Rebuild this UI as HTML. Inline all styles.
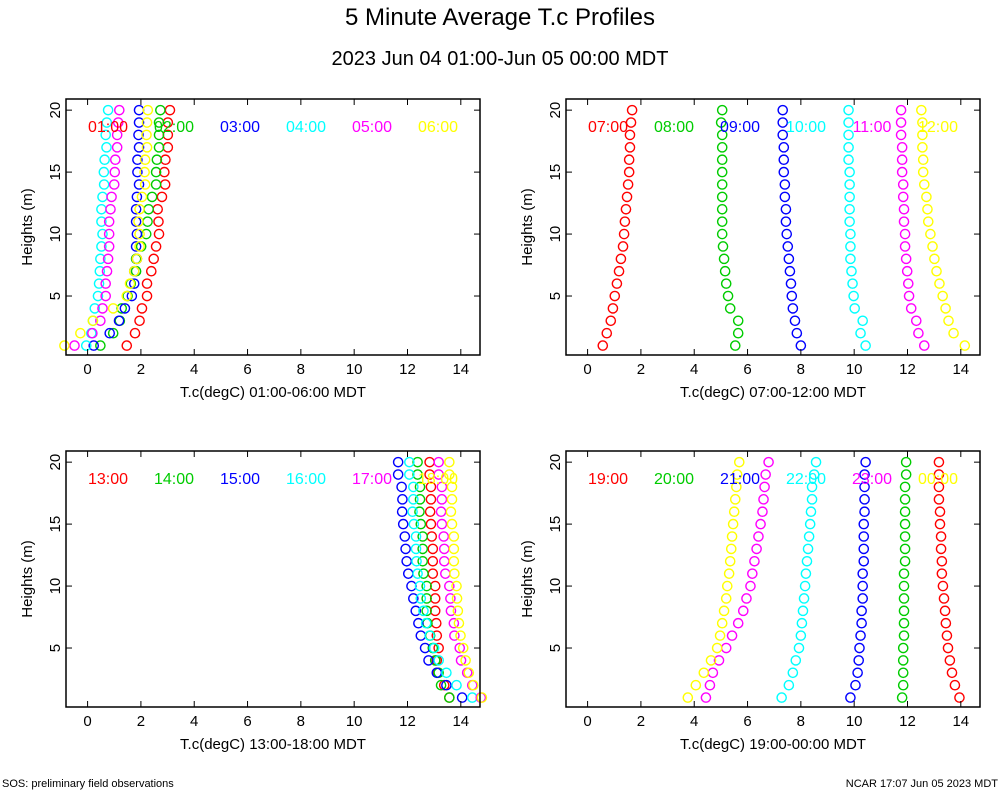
<!DOCTYPE html>
<html><head><meta charset="utf-8"><style>
body{margin:0;background:#fff;width:1000px;height:800px;overflow:hidden;font-family:"Liberation Sans",sans-serif}
svg text{font-family:"Liberation Sans",sans-serif}
</style></head><body>
<svg id="chart" width="1000" height="800" xmlns="http://www.w3.org/2000/svg">
<text x="500" y="25" font-size="24" text-anchor="middle">5 Minute Average T.c Profiles</text>
<text x="500" y="65" font-size="20" text-anchor="middle">2023 Jun 04 01:00-Jun 05 00:00 MDT</text>
<text x="2" y="787" font-size="11">SOS: preliminary field observations</text>
<text x="998" y="787" font-size="11" text-anchor="end">NCAR 17:07 Jun 05 2023 MDT</text>
</svg>
<script>
const heights=[1,2,3,4,5,6,7,8,9,10,11,12,13,14,15,16,17,18,19,20];
const colors=["#ff0000","#00cc00","#0000ff","#00ffff","#ff00ff","#ffff00"];
const xTicks=[0,2,4,6,8,10,12,14];
const yTicks=[5,10,15,20];
const p1Labels=["01:00","02:00","03:00","04:00","05:00","06:00"];
const p1Red=[1.47,1.78,1.95,2.04,2.23,2.23,2.39,2.48,2.57,2.68,2.66,2.63,2.79,2.91,2.88,2.92,3.01,3.01,3.01,3.09];
const p1Green=[0.48,0.96,1.21,1.28,1.50,1.62,1.82,1.82,2.01,2.20,2.25,2.29,2.42,2.57,2.57,2.60,2.68,2.68,2.68,2.73];
const p1Blue=[0.23,0.83,1.18,1.40,1.66,1.75,1.75,1.85,1.82,1.85,1.82,1.82,1.85,1.93,1.87,1.87,1.93,1.91,1.93,1.93];
const p1Cyan=[-0.05,0.14,0.20,0.27,0.39,0.43,0.46,0.48,0.52,0.56,0.52,0.52,0.56,0.62,0.61,0.64,0.71,0.68,0.72,0.77];
const p1Magenta=[-0.49,0.18,0.48,0.56,0.68,0.68,0.73,0.77,0.81,0.81,0.81,0.86,0.90,1.00,1.02,1.04,1.11,1.11,1.15,1.19];
const p1Yellow=[-0.87,-0.27,0.20,0.96,1.47,1.59,1.75,1.85,1.95,1.95,1.91,1.95,2.04,2.16,2.14,2.16,2.23,2.21,2.23,2.26];
const p2Labels=["07:00","08:00","09:00","10:00","11:00","12:00"];
const p2Red=[0.57,0.72,0.87,0.95,1.02,1.10,1.18,1.25,1.33,1.37,1.40,1.44,1.48,1.52,1.56,1.56,1.59,1.59,1.63,1.67];
const p2Green=[5.54,5.65,5.65,5.35,5.27,5.20,5.16,5.12,5.08,5.05,5.05,5.05,5.05,5.05,5.05,5.05,5.05,5.05,5.01,5.05];
const p2Blue=[8.00,7.85,7.78,7.70,7.66,7.63,7.59,7.55,7.51,7.47,7.44,7.44,7.40,7.40,7.36,7.36,7.36,7.32,7.32,7.32];
const p2Cyan=[10.43,10.24,10.32,10.02,9.98,9.94,9.90,9.86,9.86,9.86,9.83,9.83,9.83,9.83,9.83,9.79,9.79,9.79,9.79,9.79];
const p2Magenta=[12.63,12.41,12.33,12.14,12.06,12.03,11.99,11.95,11.91,11.91,11.87,11.87,11.84,11.84,11.80,11.80,11.80,11.76,11.76,11.76];
const p2Yellow=[14.15,13.73,13.54,13.43,13.32,13.20,13.09,13.01,12.94,12.86,12.78,12.75,12.71,12.63,12.59,12.59,12.56,12.56,12.56,12.52];
const p3Labels=["13:00","14:00","15:00","16:00","17:00","18:00"];
const p3Red=[13.57,13.38,13.13,13.10,13.17,13.10,13.08,13.04,13.04,13.04,12.95,12.95,12.95,12.91,12.88,12.85,12.88,12.88,12.83,12.83];
const p3Green=[13.57,13.26,13.17,13.04,12.95,12.85,12.75,12.72,12.72,12.72,12.60,12.57,12.57,12.57,12.50,12.45,12.47,12.47,12.38,12.38];
const p3Blue=[14.05,13.46,13.10,12.79,12.66,12.50,12.41,12.31,12.22,12.15,12.03,11.97,11.93,11.90,11.84,11.80,11.81,11.78,11.65,11.65];
const p3Cyan=[14.43,13.84,13.46,13.17,13.00,12.83,12.70,12.60,12.50,12.47,12.38,12.34,12.32,12.32,12.24,12.19,12.22,12.22,12.07,12.07];
const p3Magenta=[14.75,14.43,14.24,14.01,13.96,13.76,13.74,13.63,13.61,13.57,13.42,13.38,13.38,13.36,13.29,13.26,13.29,13.29,13.17,13.17];
const p3Yellow=[14.79,14.47,14.30,14.18,14.09,13.99,13.93,13.89,13.86,13.84,13.76,13.74,13.74,13.74,13.67,13.63,13.67,13.67,13.57,13.57];
const p4Labels=["19:00","20:00","21:00","22:00","23:00","00:00"];
const p4Red=[13.95,13.78,13.67,13.59,13.52,13.48,13.44,13.41,13.37,13.33,13.29,13.29,13.26,13.26,13.22,13.22,13.18,13.18,13.18,13.18];
const p4Green=[11.80,11.84,11.84,11.84,11.84,11.87,11.87,11.87,11.87,11.87,11.87,11.91,11.91,11.91,11.91,11.91,11.91,11.91,11.95,11.95];
const p4Blue=[9.86,10.05,10.13,10.17,10.20,10.24,10.28,10.28,10.32,10.32,10.32,10.36,10.36,10.36,10.36,10.39,10.39,10.39,10.39,10.43];
const p4Cyan=[7.28,7.55,7.70,7.81,7.93,8.00,8.04,8.08,8.12,8.16,8.19,8.23,8.27,8.31,8.35,8.38,8.42,8.42,8.50,8.57];
const p4Magenta=[4.44,4.59,4.70,4.93,5.20,5.42,5.65,5.84,5.96,6.11,6.18,6.26,6.34,6.41,6.49,6.56,6.60,6.64,6.68,6.79];
const p4Yellow=[3.76,4.06,4.36,4.63,4.86,4.97,5.05,5.12,5.20,5.24,5.31,5.35,5.39,5.42,5.46,5.50,5.54,5.58,5.61,5.69];

const NS="http://www.w3.org/2000/svg";
const svg=document.getElementById('chart');
function mk(tag,attrs,parent){const e=document.createElementNS(NS,tag);for(const k in attrs)e.setAttribute(k,attrs[k]);(parent||svg).appendChild(e);return e;}
const XMIN=-0.81,XMAX=14.72,YMIN=0.24,YMAX=20.9,W=414,H=256;
function panel(id,left,top,labels,series,title){
  const g=mk('g',{});
  
  
  const xs=v=>left+(v-XMIN)/(XMAX-XMIN)*W;
  const ys=v=>top+H-(v-YMIN)/(YMAX-YMIN)*H;
  series.forEach((arr,si)=>{
    arr.forEach((v,i)=>{
      const c=mk('circle',{cx:xs(v),cy:ys(heights[i]),r:4.6,fill:'none',stroke:colors[si],'stroke-width':1.4},g);
      
      
    });
  });
  const box=mk('rect',{x:left,y:top,width:W,height:H,fill:'none',stroke:'#000','stroke-width':1.5},g);
  
  
  xTicks.forEach(t=>{
    const x=xs(t);
    mk('line',{x1:x,x2:x,y1:top+H,y2:top+H-6,stroke:'#000','stroke-width':1},g);
    mk('line',{x1:x,x2:x,y1:top,y2:top+6,stroke:'#000','stroke-width':1},g);
    const tl=mk('text',{x:x,y:top+H+19,'font-size':15,'text-anchor':'middle'},g);
    tl.textContent=t;
    
    
  });
  yTicks.forEach(t=>{
    const y=ys(t);
    mk('line',{x1:left,x2:left+6,y1:y,y2:y,stroke:'#000','stroke-width':1},g);
    mk('line',{x1:left+W,x2:left+W-6,y1:y,y2:y,stroke:'#000','stroke-width':1},g);
    const lx=left-6;
    const tl=mk('text',{x:lx,y:y,'font-size':15,'text-anchor':'middle',transform:`rotate(-90 ${lx} ${y})`},g);
    tl.textContent=t;
    
    
  });
  labels.forEach((l,i)=>{
    const t=mk('text',{x:left+42+i*66,y:top+33,'font-size':16,'text-anchor':'middle',fill:colors[i]},g);
    t.textContent=l;
    
    
  });
  const xt=mk('text',{x:left+W/2,y:top+H+42,'font-size':15,'text-anchor':'middle'},g);
  xt.textContent=title;
  
  
  const yx=left-34,yy=top+H/2;
  const yt=mk('text',{x:yx,y:yy,'font-size':15,'text-anchor':'middle',transform:`rotate(-90 ${yx} ${yy})`},g);
  yt.textContent='Heights (m)';
  
  
}
panel('panel-01-06',66,99,p1Labels,[p1Red,p1Green,p1Blue,p1Cyan,p1Magenta,p1Yellow],'T.c(degC) 01:00-06:00 MDT');
panel('panel-07-12',566,99,p2Labels,[p2Red,p2Green,p2Blue,p2Cyan,p2Magenta,p2Yellow],'T.c(degC) 07:00-12:00 MDT');
panel('panel-13-18',66,451,p3Labels,[p3Red,p3Green,p3Blue,p3Cyan,p3Magenta,p3Yellow],'T.c(degC) 13:00-18:00 MDT');
panel('panel-19-00',566,451,p4Labels,[p4Red,p4Green,p4Blue,p4Cyan,p4Magenta,p4Yellow],'T.c(degC) 19:00-00:00 MDT');
</script>
</body></html>
